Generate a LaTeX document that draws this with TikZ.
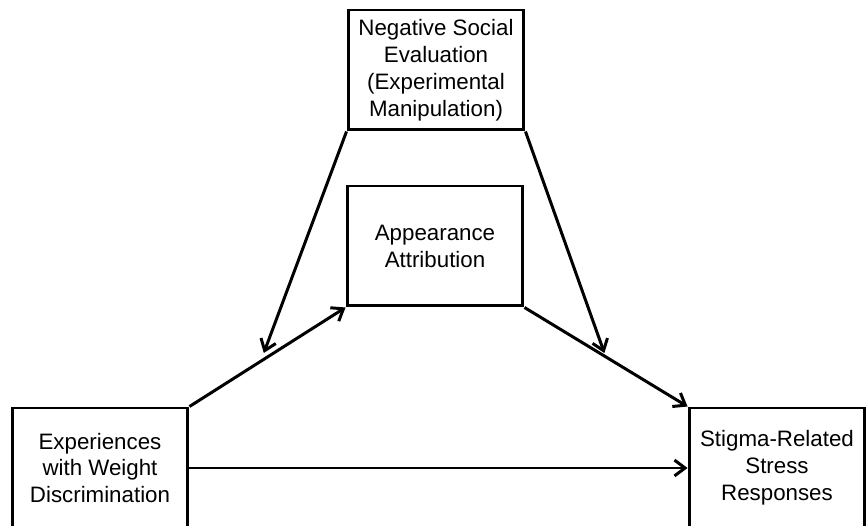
\documentclass[tikz,border=0pt]{standalone}
\usepackage{fontspec}
\setmainfont{Liberation Sans}
\usetikzlibrary{positioning, arrows.meta, calc}

\begin{document}
\begin{tikzpicture}[
        x=0.02cm, y=-0.02cm,
        font=\fontsize{12.7}{15.3}\selectfont,
        box/.style={rectangle, draw, line width=1.7pt, minimum width=3.52cm,
            minimum height=2.4cm, align=center, fill=white},
        arr/.style={-{Straight Barb[length=6pt, width=9pt, line width=1.7pt]}, line width=1.7pt}
    ]
    \useasboundingbox (0,0) rectangle (867,526);
    \node[box] (neg)  at (436,70)  {Negative Social\\Evaluation\\(Experimental\\Manipulation)};
    \node[box] (app)  at (435,246) {Appearance\\Attribution};
    \node[box] (exp)  at (100,468) {Experiences\\with Weight\\Discrimination};
    \node[box] (stig) at (777,468) {Stigma-Related\\Stress\\Responses};

    \draw[arr] (exp.north east) -- (app.south west);
    \draw[arr] (app.south east) -- (stig.north west);
    \draw[arr] (exp.east) -- (stig.west);

    % moderation paths
    \path (exp.north east) -- (app.south west) coordinate[pos=0.47] (m1);
    \path (app.south east) -- (stig.north west) coordinate[pos=0.49] (m2);
    \draw[arr] (neg.south west) -- ($(m1)+(1,-7)$);
    \draw[arr] (neg.south east) -- ($(m2)+(0,-3)$);
\end{tikzpicture}
\end{document}
